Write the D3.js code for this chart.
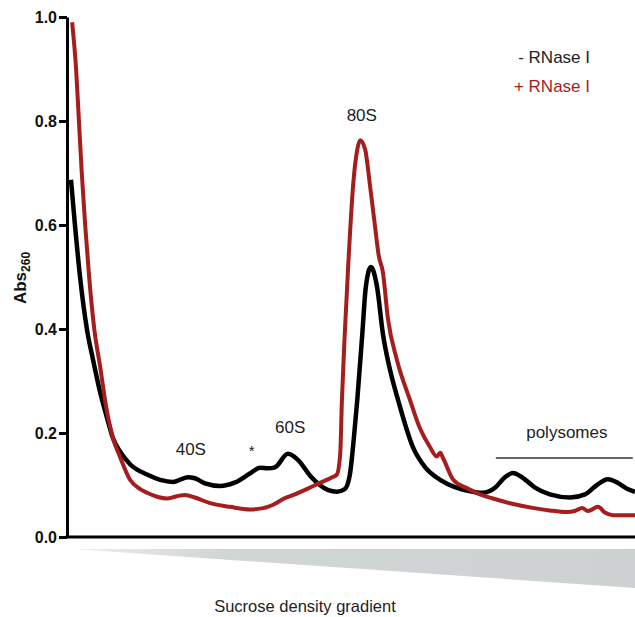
<!DOCTYPE html>
<html>
<head>
<meta charset="utf-8">
<script src="https://cdn.jsdelivr.net/npm/d3@7"></script>
<style>
  body { margin: 0; background: #fff; }
  svg { display: block; font-family: "Liberation Sans", Arial, Helvetica, sans-serif; }
</style>
</head>
<body>
<svg width="635" height="617"></svg>
<script>
// position along the gradient (0 = top, 100 = bottom) and absorbance
var blackPos = [0.7, 1.4, 2.3, 3.5, 4.6, 5.8, 6.9, 8.1, 9.3, 11.1, 14.1, 16.4, 18.7, 21.3, 22.5, 24.3, 26.9, 29.6, 32.2, 34.0, 35.4, 36.6, 38.9, 40.7, 42.8, 44.5, 46.0, 47.5, 48.9, 49.8, 50.5, 51.1, 52.0, 52.6, 53.5, 54.6, 55.6, 56.9, 58.3, 60.9, 63.0, 65.7, 68.3, 71.0, 73.2, 75.4, 77.1, 78.5, 80.1, 82.4, 85.0, 88.6, 91.2, 93.3, 95.2, 97.0, 98.6, 100];
var blackAbs = [0.687, 0.60, 0.50, 0.40, 0.34, 0.28, 0.235, 0.19, 0.165, 0.14, 0.12, 0.11, 0.106, 0.115, 0.113, 0.103, 0.098, 0.105, 0.122, 0.133, 0.132, 0.134, 0.16, 0.148, 0.118, 0.100, 0.09, 0.087, 0.092, 0.12, 0.19, 0.263, 0.392, 0.48, 0.519, 0.48, 0.392, 0.32, 0.263, 0.173, 0.135, 0.11, 0.096, 0.088, 0.085, 0.095, 0.115, 0.123, 0.115, 0.095, 0.082, 0.076, 0.082, 0.100, 0.111, 0.104, 0.093, 0.087];

var redPos = [0.9, 1.6, 2.1, 2.6, 3.2, 3.9, 4.8, 5.8, 6.9, 8.1, 9.3, 11.1, 12.9, 14.1, 16.0, 17.6, 19.2, 20.8, 22.5, 25.2, 28.7, 32.2, 34.3, 36.3, 38.4, 40.1, 42.4, 44.5, 46.7, 47.5, 48.1, 48.4, 48.9, 49.5, 50.4, 51.1, 51.6, 52.5, 53.3, 54.2, 54.9, 55.6, 56.5, 58.1, 60.4, 62.1, 63.9, 65.1, 65.7, 66.2, 68.0, 70.4, 72.7, 75.0, 78.0, 82.0, 85.0, 88.0, 89.4, 90.7, 91.7, 93.5, 94.7, 96.1, 100];
var redAbs = [0.99, 0.90, 0.80, 0.70, 0.60, 0.50, 0.40, 0.33, 0.25, 0.19, 0.155, 0.11, 0.092, 0.085, 0.077, 0.074, 0.078, 0.081, 0.076, 0.065, 0.058, 0.053, 0.055, 0.062, 0.075, 0.082, 0.093, 0.104, 0.115, 0.12, 0.16, 0.263, 0.39, 0.52, 0.68, 0.745, 0.763, 0.745, 0.68, 0.60, 0.54, 0.51, 0.42, 0.34, 0.263, 0.21, 0.173, 0.155, 0.162, 0.152, 0.11, 0.094, 0.082, 0.074, 0.065, 0.056, 0.051, 0.048, 0.050, 0.056, 0.050, 0.058, 0.047, 0.042, 0.042];

var yTicks = [0, 0.2, 0.4, 0.6, 0.8, 1.0];

// peak labels: [text, position, absorbance]
var peakLabels = [["40S", 21.8, 0.158], ["*", 32.5, 0.155], ["60S", 39.3, 0.2], ["80S", 51.9, 0.8], ["polysomes", 88.0, 0.19]];
var polysomeRange = [75.5, 99.6];

var svg = d3.select("svg");
var red = "#a51d1d";

var x = d3.scaleLinear().domain([0, 100]).range([67, 635]);
var y = d3.scaleLinear().domain([0, 1]).range([537, 17]);

// gradient wedge
var defs = svg.append("defs");
var grad = defs.append("linearGradient").attr("id", "wedge");
grad.append("stop").attr("offset", "0%").attr("stop-color", "#eef0f0");
grad.append("stop").attr("offset", "25%").attr("stop-color", "#d3d6d6");
grad.append("stop").attr("offset", "100%").attr("stop-color", "#cdd1d1");
svg.append("path")
  .attr("d", "M73,549 L635,549 L635,588 Z")
  .attr("fill", "url(#wedge)");

svg.append("text")
  .attr("x", 305).attr("y", 612)
  .attr("text-anchor", "middle")
  .attr("font-size", 16.5).attr("fill", "#222")
  .text("Sucrose density gradient");

// axes
var yAxis = svg.append("g")
  .attr("transform", "translate(67,0)")
  .call(d3.axisLeft(y).tickValues(yTicks).tickFormat(d3.format(".1f")).tickSize(8).tickPadding(2).tickSizeOuter(0));
yAxis.select(".domain").attr("stroke-width", 3).attr("stroke", "#000");
yAxis.selectAll(".tick line").attr("stroke-width", 3).attr("stroke", "#000");
yAxis.selectAll(".tick text")
  .attr("font-size", 16).attr("font-weight", "bold").attr("fill", "#111")
  .attr("font-family", "'Liberation Sans', Arial, sans-serif");

svg.append("line")
  .attr("x1", 65.5).attr("x2", 635)
  .attr("y1", y(0)).attr("y2", y(0))
  .attr("stroke", "#000").attr("stroke-width", 3);

var yl = svg.append("text")
  .attr("transform", "translate(26,278) rotate(-90)")
  .attr("text-anchor", "middle")
  .attr("font-size", 17).attr("font-weight", "bold").attr("fill", "#111");
yl.append("tspan").text("Abs");
yl.append("tspan").attr("font-size", 12).attr("dy", 4).text("260");

// curves
var line = d3.line()
  .x(function (d) { return x(d[0]); })
  .y(function (d) { return y(d[1]); })
  .curve(d3.curveMonotoneX);

svg.append("path")
  .datum(d3.zip(blackPos, blackAbs))
  .attr("d", line)
  .attr("fill", "none")
  .attr("stroke", "#000")
  .attr("stroke-width", 4.5)
  .attr("stroke-linejoin", "round");

svg.append("path")
  .datum(d3.zip(redPos, redAbs))
  .attr("d", line)
  .attr("fill", "none")
  .attr("stroke", red)
  .attr("stroke-width", 4)
  .attr("stroke-linejoin", "round");

// labels
svg.selectAll(".peak")
  .data(peakLabels)
  .enter().append("text")
  .attr("class", "peak")
  .attr("x", function (d) { return x(d[1]); })
  .attr("y", function (d) { return y(d[2]); })
  .attr("text-anchor", "middle")
  .attr("font-size", function (d) { return d[0] == "*" ? 15 : 17; })
  .attr("fill", "#222")
  .text(function (d) { return d[0]; });

svg.append("line")
  .attr("x1", x(polysomeRange[0])).attr("x2", x(polysomeRange[1]))
  .attr("y1", 458).attr("y2", 458)
  .attr("stroke", "#333").attr("stroke-width", 1.5);

// legend
svg.append("text")
  .attr("x", 590).attr("y", 63)
  .attr("text-anchor", "end")
  .attr("font-size", 17).attr("fill", "#222")
  .text("- RNase I");
svg.append("text")
  .attr("x", 590).attr("y", 92)
  .attr("text-anchor", "end")
  .attr("font-size", 17).attr("fill", red)
  .text("+ RNase I");
</script>
</body>
</html>
